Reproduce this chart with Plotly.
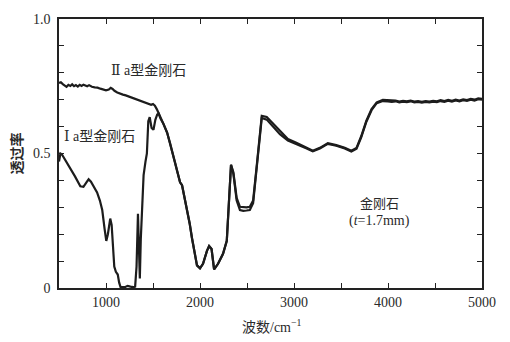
import plotly.graph_objects as go

# Infrared transmittance of diamond (thickness 1.7 mm)

# Region where the two samples differ
iia_x = [500, 520, 540, 560, 580, 600, 620, 640, 660, 680, 700, 720, 740, 760, 780, 800,
         820, 850, 880, 910, 940, 970, 1000, 1030, 1050, 1070, 1090, 1120, 1150, 1180, 1210,
         1240, 1270, 1300, 1330, 1360, 1390, 1420, 1450, 1480, 1500, 1520, 1540, 1560]
iia_y = [0.762, 0.765, 0.758, 0.752, 0.748, 0.755, 0.751, 0.757, 0.750, 0.754, 0.749, 0.755,
         0.751, 0.756, 0.752, 0.750, 0.754, 0.748, 0.746, 0.745, 0.741, 0.738, 0.735, 0.738,
         0.744, 0.740, 0.733, 0.727, 0.722, 0.719, 0.716, 0.712, 0.708, 0.704, 0.700, 0.697,
         0.692, 0.688, 0.684, 0.681, 0.684, 0.678, 0.665, 0.648]

ia_x = [500, 515, 530, 560, 590, 620, 670, 727, 760, 790, 815, 840, 870, 905, 935, 960,
        985, 1003, 1020, 1045, 1060, 1075, 1088, 1105, 1125, 1140, 1155, 1200, 1230, 1260,
        1290, 1310, 1325, 1340, 1350, 1360, 1370, 1385, 1400, 1420, 1435, 1450, 1465, 1485,
        1505, 1525, 1545, 1560]
ia_y = [0.470, 0.500, 0.497, 0.480, 0.462, 0.447, 0.415, 0.378, 0.376, 0.392, 0.404, 0.395,
        0.375, 0.355, 0.325, 0.290, 0.220, 0.175, 0.200, 0.258, 0.235, 0.170, 0.080, 0.060,
        0.050, 0.020, 0.003, 0.003, 0.008, 0.005, 0.003, 0.005, 0.080, 0.276, 0.120, 0.035,
        0.180, 0.330, 0.420, 0.470, 0.500, 0.620, 0.635, 0.595, 0.588, 0.625, 0.645, 0.648]

# Region common to both samples (IIa / Ia values)
common_x = [1580, 1610, 1650, 1682, 1710, 1735, 1760, 1788, 1809, 1835, 1862, 1890, 1915,
            1948, 1968, 2000, 2032, 2074, 2097, 2123, 2150, 2192, 2245, 2285, 2310, 2330,
            2355, 2390, 2425, 2460, 2495, 2530, 2565, 2605, 2637, 2657, 2710, 2775, 2850,
            2935, 3025, 3135, 3200, 3275, 3360, 3450, 3540, 3610, 3665, 3715, 3770, 3825,
            3880, 3945, 4000, 4040, 4080, 4120, 4160, 4200, 4240, 4280, 4320, 4360, 4400,
            4440, 4480, 4520, 4560, 4600, 4640, 4680, 4720, 4760, 4800, 4840, 4880, 4920,
            4960, 5000]
common_iia = [0.630, 0.611, 0.578, 0.538, 0.500, 0.465, 0.430, 0.393, 0.382, 0.340, 0.295,
              0.240, 0.185, 0.113, 0.084, 0.073, 0.090, 0.138, 0.156, 0.145, 0.069, 0.090,
              0.127, 0.175, 0.320, 0.458, 0.430, 0.335, 0.302, 0.300, 0.300, 0.302, 0.325,
              0.460, 0.580, 0.640, 0.636, 0.612, 0.582, 0.554, 0.540, 0.521, 0.510, 0.521,
              0.538, 0.531, 0.521, 0.510, 0.521, 0.564, 0.622, 0.665, 0.690, 0.699, 0.698,
              0.695, 0.697, 0.693, 0.696, 0.694, 0.697, 0.693, 0.695, 0.692, 0.695, 0.693,
              0.696, 0.694, 0.698, 0.695, 0.699, 0.696, 0.700, 0.697, 0.701, 0.699, 0.703,
              0.700, 0.705, 0.703]
common_ia = [0.630, 0.611, 0.578, 0.538, 0.500, 0.465, 0.430, 0.393, 0.382, 0.340, 0.295,
             0.240, 0.185, 0.113, 0.084, 0.073, 0.090, 0.138, 0.156, 0.145, 0.069, 0.090,
             0.127, 0.175, 0.320, 0.458, 0.425, 0.325, 0.290, 0.287, 0.288, 0.290, 0.315,
             0.452, 0.570, 0.632, 0.626, 0.600, 0.572, 0.548, 0.536, 0.519, 0.508, 0.519,
             0.536, 0.529, 0.519, 0.507, 0.518, 0.560, 0.618, 0.661, 0.687, 0.695, 0.694,
             0.692, 0.694, 0.690, 0.693, 0.691, 0.694, 0.690, 0.692, 0.689, 0.692, 0.690,
             0.693, 0.691, 0.695, 0.692, 0.696, 0.693, 0.697, 0.694, 0.698, 0.696, 0.700,
             0.697, 0.702, 0.700]

line_color = "#1c1c1c"
text_color = "#2a2a2a"
serif = "Liberation Serif, Times New Roman, serif"
mixed = "Liberation Serif, DejaVu Serif, Noto Sans CJK SC"
cjk = "Noto Sans CJK SC, sans-serif"

fig = go.Figure()
fig.add_trace(go.Scatter(x=iia_x + common_x, y=iia_y + common_iia, mode="lines",
                         line=dict(color=line_color, width=2.2), name="Ⅱa"))
fig.add_trace(go.Scatter(x=ia_x + common_x, y=ia_y + common_ia, mode="lines",
                         line=dict(color=line_color, width=2.2), name="Ⅰa"))

axis_common = dict(showline=True, linecolor="#222", linewidth=1.5, mirror="allticks",
                   ticks="inside", ticklen=5, tickcolor="#222", tickwidth=1,
                   showgrid=False, zeroline=False,
                   tickfont=dict(family=serif, size=14, color=text_color))

fig.update_xaxes(range=[500, 5000], tickvals=[1000, 2000, 3000, 4000, 5000],
                 minor=dict(tickvals=[500, 1500, 2500, 3500, 4500], ticks="inside",
                            ticklen=5, tickcolor="#222"),
                 **axis_common)
fig.update_yaxes(range=[0, 1.0], tickvals=[0, 0.5, 1.0], ticktext=["0", "0.5", "1.0"],
                 minor=dict(dtick=0.1, ticks="inside", ticklen=5, tickcolor="#222"),
                 ticklabelstandoff=4, **axis_common)

annotations = [
    dict(x=1449, y=0.81, text="Ⅱ a型金刚石", xref="x", yref="y", showarrow=False,
         xanchor="center", yanchor="middle",
         font=dict(family=mixed, size=14, color=text_color)),
    dict(x=537, y=0.564, text="Ⅰ a型金刚石", xref="x", yref="y", showarrow=False,
         xanchor="left", yanchor="middle",
         font=dict(family=mixed, size=14, color=text_color)),
    dict(x=3909, y=0.318, text="金刚石", xref="x", yref="y", showarrow=False,
         xanchor="center", yanchor="middle",
         font=dict(family=cjk, size=13, color=text_color)),
    dict(x=3909, y=0.25, text="(<i>t</i>=1.7mm)", xref="x", yref="y", showarrow=False,
         xanchor="center", yanchor="middle",
         font=dict(family=serif, size=14, color=text_color)),
    dict(x=-0.104, y=0.5, text="<b>透过率</b>", xref="paper", yref="paper", showarrow=False,
         xanchor="center", yanchor="middle", textangle=-90,
         font=dict(family=cjk, size=14, color=text_color)),
    dict(x=0.503, y=-0.142, text="波数/cm<sup>−1</sup>", xref="paper", yref="paper",
         xanchor="center", yanchor="middle", showarrow=False,
         font=dict(family=mixed, size=14, color=text_color)),
]

fig.update_layout(width=510, height=342, margin=dict(l=59, r=28, t=13, b=54),
                  plot_bgcolor="white", paper_bgcolor="white", showlegend=False,
                  annotations=annotations)

fig.write_html("out.html")
